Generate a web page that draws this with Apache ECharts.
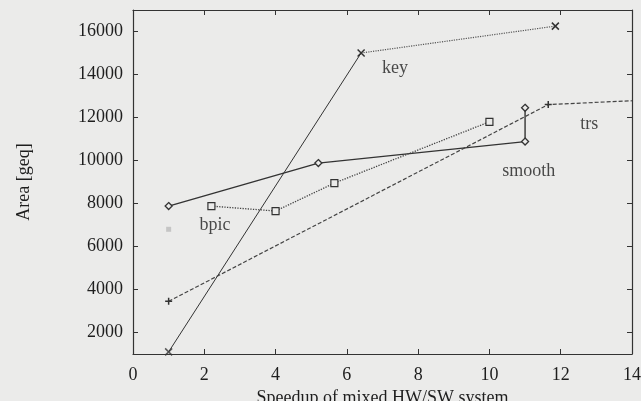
<!DOCTYPE html>
<html>
<head>
<meta charset="utf-8">
<script src="https://cdn.jsdelivr.net/npm/echarts@6/dist/echarts.min.js"></script>
<style>
html,body{margin:0;padding:0;background:#ebebea;}
#c{width:641px;height:401px;}
</style>
</head>
<body>
<div id="c"></div>
<script>
// x: speedup, y: area [geq]
var keySolid = [[1, 1100], [6.4, 15000]];
var keyDotted = [[6.4, 15000], [11.85, 16250]];
var smooth = [[1, 7880], [5.2, 9880], [11, 10880], [11, 12450]];
var bpic = [[2.2, 7880], [4, 7650], [5.65, 8950], [10, 11800]];
var bpicFaint = [[1, 6800]];
var trs = [[1, 3450], [11.65, 12600], [14, 12780]];
var curveLabels = [
  {name: 'key', value: [7.35, 14300]},
  {name: 'trs', value: [12.8, 11700]},
  {name: 'smooth', value: [11.1, 9500]},
  {name: 'bpic', value: [2.3, 7000]}
];
var xTicks = [0, 2, 4, 6, 8, 10, 12, 14];
var yTicks = [2000, 4000, 6000, 8000, 10000, 12000, 14000, 16000];

var ink = '#333333';
var font = 'Liberation Serif';
var crossPath = 'path://M0,0L10,10M10,0L0,10';
var plusPath = 'path://M0,5L10,5M5,0L5,10';

var trsData = trs.map(function (p, i) {
  return i === trs.length - 1 ? {value: p, symbol: 'none'} : {value: p};
});

var chart = echarts.init(document.getElementById('c'));
chart.setOption({
  backgroundColor: '#ebebea',
  animation: false,
  grid: {left: 133, right: 9, top: 10, bottom: 47, containLabel: false, outerBoundsMode: 'none'},
  xAxis: [{
    type: 'value', min: 0, max: 14, interval: 2,
    name: 'Speedup of mixed HW/SW system', nameLocation: 'middle', nameGap: 34,
    nameTextStyle: {fontFamily: font, fontSize: 18, color: '#1e1e1e'},
    axisLine: {lineStyle: {color: ink, width: 1.2}},
    axisTick: {inside: true, length: 5, lineStyle: {color: ink}},
    axisLabel: {fontFamily: font, fontSize: 18, color: '#1e1e1e', margin: 12,
                formatter: function (v) { return String(v); }},
    splitLine: {show: false}
  }, {
    type: 'value', min: 0, max: 14, interval: 2, position: 'top',
    axisLine: {show: true, onZero: false, lineStyle: {color: ink, width: 1.2}},
    axisTick: {inside: true, length: 5, lineStyle: {color: ink}},
    axisLabel: {show: false}, splitLine: {show: false}
  }],
  yAxis: [{
    type: 'value', min: 1000, max: 17000,
    name: 'Area [geq]', nameLocation: 'middle', nameGap: 100,
    nameTextStyle: {fontFamily: font, fontSize: 18, color: '#1e1e1e'},
    axisLine: {show: true, lineStyle: {color: ink, width: 1.2}},
    axisTick: {show: true, inside: true, length: 5, customValues: yTicks, lineStyle: {color: ink}},
    axisLabel: {fontFamily: font, fontSize: 18, color: '#1e1e1e', margin: 10, customValues: yTicks,
                formatter: function (v) { return String(v); }},
    splitLine: {show: false}
  }, {
    type: 'value', min: 1000, max: 17000, position: 'right',
    axisLine: {show: true, onZero: false, lineStyle: {color: ink, width: 1.2}},
    axisTick: {show: true, inside: true, length: 5, customValues: yTicks, lineStyle: {color: ink}},
    axisLabel: {show: false, customValues: yTicks}, splitLine: {show: false}
  }],
  series: [
    {type: 'line', data: keySolid, symbol: 'none',
     lineStyle: {color: ink, width: 1}},
    {type: 'line', data: keyDotted, symbol: crossPath, symbolSize: 7,
     showAllSymbol: true,
     itemStyle: {color: 'rgba(0,0,0,0)', borderColor: ink, borderWidth: 1.5},
     lineStyle: {color: '#555', width: 1.2, type: 'dotted'}},
    {type: 'scatter', data: [keySolid[0]], symbol: crossPath, symbolSize: 7,
     itemStyle: {color: 'rgba(0,0,0,0)', borderColor: ink, borderWidth: 1.5}},
    {type: 'line', data: smooth, symbol: 'diamond', symbolSize: 7,
     itemStyle: {color: '#ebebea', borderColor: ink, borderWidth: 1.3},
     lineStyle: {color: ink, width: 1.4}},
    {type: 'line', data: bpic, symbol: 'rect', symbolSize: 7,
     itemStyle: {color: '#ebebea', borderColor: ink, borderWidth: 1.2},
     lineStyle: {color: '#444', width: 1.3, type: 'dotted'}},
    {type: 'scatter', data: bpicFaint, symbol: 'rect', symbolSize: 5,
     itemStyle: {color: '#bcbcbc'}},
    {type: 'line', data: trsData, symbol: plusPath, symbolSize: 7,
     itemStyle: {color: 'rgba(0,0,0,0)', borderColor: ink, borderWidth: 1.5},
     lineStyle: {color: '#444', width: 1.2, type: [4, 2]}},
    {type: 'scatter', data: curveLabels, symbolSize: 0, silent: true,
     label: {show: true, position: 'inside', formatter: '{b}',
             fontFamily: font, fontSize: 18, color: '#1e1e1e'}}
  ]
});
</script>
</body>
</html>
